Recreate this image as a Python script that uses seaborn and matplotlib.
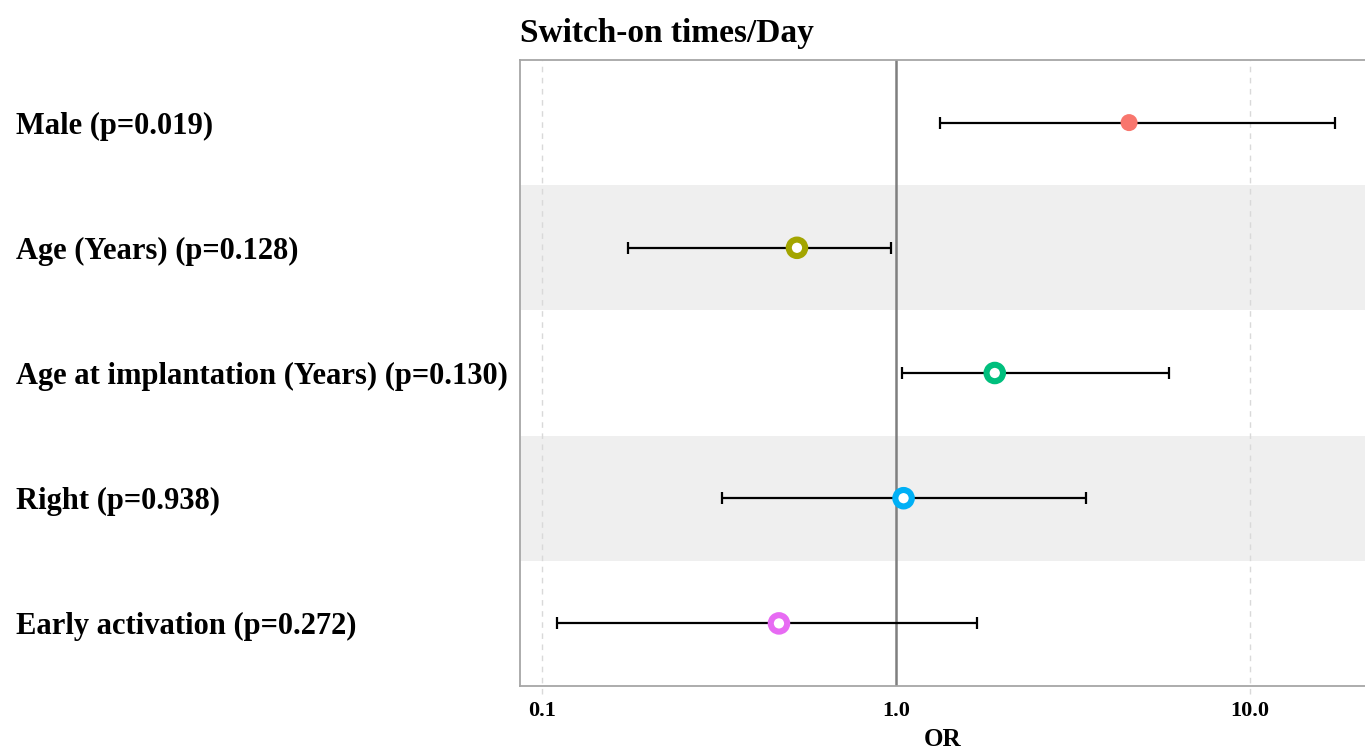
import numpy as np
import pandas as pd
import seaborn as sns
import matplotlib.pyplot as plt

# values
labels = ["Male (p=0.019)", "Age (Years) (p=0.128)",
          "Age at implantation (Years) (p=0.130)", "Right (p=0.938)",
          "Early activation (p=0.272)"]
odds_ratio = [4.55, 0.525, 1.90, 1.05, 0.467]
ci_low = [1.33, 0.175, 1.04, 0.322, 0.110]
ci_high = [17.4, 0.968, 5.90, 3.44, 1.69]
colors = ["#F8766D", "#A3A500", "#00BF7D", "#00B0F6", "#E76BF3"]

df = pd.DataFrame({"label": labels, "OR": odds_ratio,
                   "low": ci_low, "high": ci_high,
                   "row": np.arange(len(labels))})

sns.set_theme(style="white")
plt.rcParams['font.family'] = ['Liberation Serif', 'DejaVu Serif']
plt.rcParams['font.weight'] = 'bold'
plt.rcParams['text.color'] = 'black'
plt.rcParams['axes.labelcolor'] = 'black'
plt.rcParams['xtick.color'] = 'black'
plt.rcParams['ytick.color'] = 'black'

fig = plt.figure(figsize=(13.65, 7.49), dpi=100)
ax = fig.add_axes([520 / 1365, 1 - 686 / 749, 845 / 1365, 626 / 749])

# alternating row shading
for r in df["row"]:
    if r % 2 == 1:
        ax.axhspan(r - 0.5, r + 0.5, color="#EFEFEF", zorder=0, lw=0)

ax.set_xscale("log")
for g in [0.1, 10.0]:
    ax.axvline(g, color="#D9D9D9", ls=(0, (4, 4)), lw=1, zorder=1, clip_on=False, ymin=-0.012)
ax.axvline(1.0, color="#7F7F7F", lw=1.8, zorder=2)

ax.errorbar(df["OR"], df["row"],
            xerr=[df["OR"] - df["low"], df["high"] - df["OR"]],
            fmt="none", ecolor="black", elinewidth=1.6, capsize=4.3,
            capthick=1.6, zorder=3)

sns.scatterplot(data=df, x="OR", y="row", hue="label", palette=colors,
                s=140, linewidth=4.4, legend=False, ax=ax, zorder=4)
pts = ax.collections[-1]
n = len(labels)
pts.set_edgecolors(colors)
pts.set_facecolors([colors[0]] + ["white"] * (n - 1))
# first marker filled, the rest hollow rings
pts.set_linewidths([0.0] + [4.4] * (n - 1))
pts.set_sizes([150] + [140] * (n - 1))

ax.set_xlim(0.0867, 21.1)
ax.set_ylim(4.5, -0.5)
ax.set_xticks([0.1, 1.0, 10.0])
ax.set_xticklabels(["0.1", "1.0", "10.0"], fontsize=16, fontweight="bold")
ax.minorticks_off()
ax.set_yticks(df["row"])
ax.set_yticklabels(df["label"], fontsize=22, fontweight="bold", ha="left")
ax.tick_params(axis="y", length=0, pad=363)
ax.tick_params(axis="x", length=0, pad=11)

ax.set_xlabel("OR", fontsize=18, fontweight="bold", labelpad=5)
ax.set_ylabel("")
ax.set_title("Switch-on times/Day", fontsize=24, fontweight="bold",
             loc="left", pad=13)

for side in ["left", "bottom", "top"]:
    ax.spines[side].set_color("#A6A6A6")
    ax.spines[side].set_linewidth(1.3)
ax.spines["right"].set_visible(False)

fig.savefig("out.png", dpi=100)
